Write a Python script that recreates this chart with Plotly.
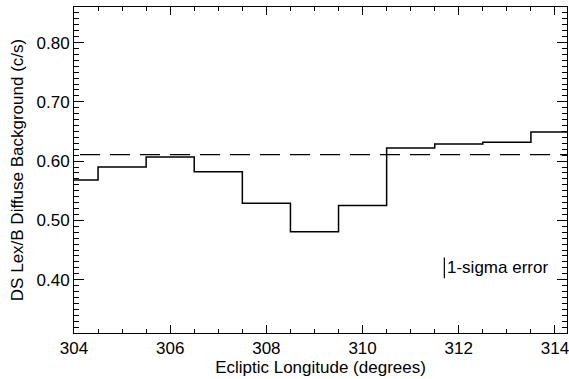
import plotly.graph_objects as go

# Data
bin_centers = [304, 305, 306, 307, 308, 309, 310, 311, 312, 313, 314]
background = [0.568, 0.590, 0.607, 0.582, 0.529, 0.481, 0.525, 0.622, 0.629, 0.632, 0.649]
mean_level = 0.611
sigma_x = 311.7
sigma_center = 0.420
sigma_half = 0.0175

X_RANGE = [304, 314.25]
Y_RANGE = [0.31, 0.86]

# step edges
edges = [c - 0.5 for c in bin_centers] + [bin_centers[-1] + 0.5]
step_y = background + [background[-1]]

FONT = "Liberation Sans, Arial, Helvetica, sans-serif"

fig = go.Figure()
fig.add_trace(go.Scatter(x=edges, y=step_y, mode="lines", line_shape="hv",
                         line=dict(color="black", width=1.5), showlegend=False))
fig.add_trace(go.Scatter(x=[303.5, 314.5], y=[mean_level, mean_level], mode="lines",
                         line=dict(color="black", width=1.4, dash="20px,10px"), showlegend=False))
fig.add_trace(go.Scatter(x=[sigma_x, sigma_x], y=[sigma_center - sigma_half, sigma_center + sigma_half],
                         mode="lines", line=dict(color="black", width=1.2), showlegend=False))
fig.add_trace(go.Scatter(x=[X_RANGE[0]], y=[Y_RANGE[0]], xaxis="x2", yaxis="y2", mode="markers",
                         marker=dict(opacity=0), hoverinfo="skip", showlegend=False))
fig.add_annotation(x=sigma_x, y=sigma_center, xref="x", yref="y", text="1-sigma error",
                   showarrow=False, xanchor="left", xshift=1, font=dict(size=17, color="black", family=FONT))

def xcommon():
    return dict(range=X_RANGE, dtick=2, ticks="inside", ticklen=8, tickwidth=1, tickcolor="black",
                showline=True, linecolor="black", showgrid=False,
                minor=dict(dtick=0.5, ticks="inside", ticklen=4, tickwidth=1, tickcolor="black"))

def ycommon():
    return dict(range=Y_RANGE, dtick=0.1, ticks="inside", ticklen=10, tickwidth=1, tickcolor="black",
                showline=True, linecolor="black", showgrid=False,
                minor=dict(dtick=0.01, ticks="inside", ticklen=5, tickwidth=1, tickcolor="black"))

fig.update_layout(
    xaxis=dict(**xcommon(), automargin=False, ticklabeloverflow="allow",
               title=dict(text="Ecliptic Longitude (degrees)", standoff=3,
                          font=dict(size=17, family=FONT, color="black")),
               tickfont=dict(size=17, family=FONT, color="black")),
    yaxis=dict(**ycommon(), automargin=False, tickformat=".2f",
               title=dict(text="DS Lex/B Diffuse Background (c/s)", standoff=8,
                          font=dict(size=17, family=FONT, color="black")),
               tickfont=dict(size=17, family=FONT, color="black")),
    xaxis2=dict(**xcommon(), overlaying="x", anchor="y", side="top", showticklabels=False),
    yaxis2=dict(**ycommon(), overlaying="y", anchor="x", side="right", showticklabels=False),
    width=569, height=379, margin=dict(l=74, r=2, t=7, b=46),
    paper_bgcolor="white", plot_bgcolor="white",
)

fig.write_html("out.html", config={"displayModeBar": False},
               post_script="document.body.style.margin='0';")
